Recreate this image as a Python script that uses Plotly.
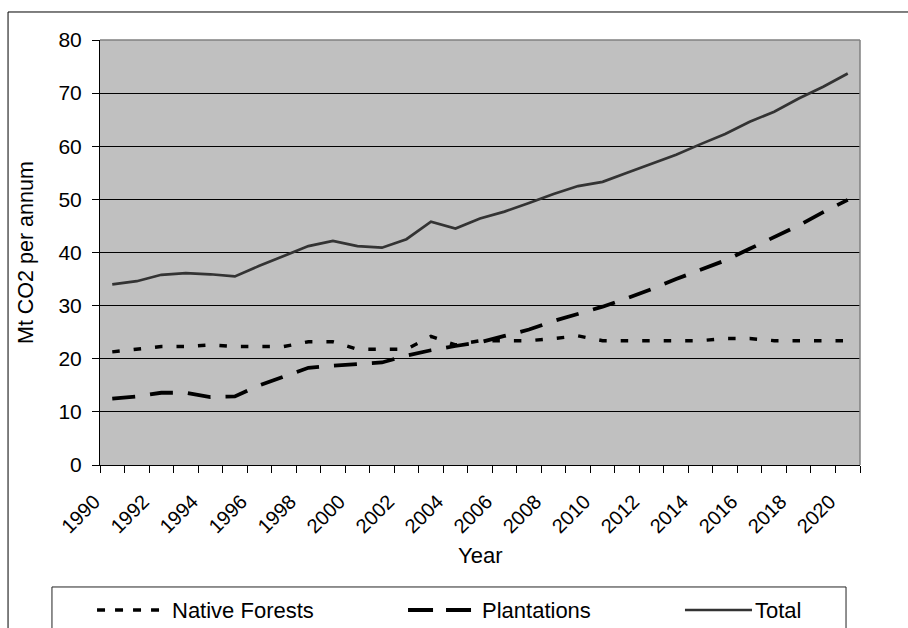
import plotly.graph_objects as go

# Annual net CO2 removals (Mt CO2 per annum), 1990-2020
years = list(range(1990, 2021))
native_forests = [21.3, 21.8, 22.3, 22.3, 22.6, 22.3, 22.3, 22.3, 23.2, 23.2,
                  21.8, 21.8, 21.8, 24.2, 22.6, 23.4, 23.4, 23.4, 23.8, 24.3,
                  23.4, 23.4, 23.4, 23.4, 23.4, 23.8, 23.8, 23.4, 23.4, 23.4, 23.4]
plantations = [12.5, 12.9, 13.6, 13.6, 12.8, 12.9, 15.0, 16.7, 18.3, 18.7,
               19.0, 19.3, 20.6, 21.6, 22.4, 23.1, 24.3, 25.5, 27.1, 28.4,
               29.8, 31.4, 33.1, 35.0, 36.7, 38.5, 40.7, 42.9, 45.1, 47.6, 49.9]
total = [34.0, 34.6, 35.8, 36.1, 35.9, 35.5, 37.5, 39.3, 41.2, 42.2,
         41.2, 40.9, 42.5, 45.8, 44.5, 46.4, 47.7, 49.3, 51.0, 52.5,
         53.3, 55.0, 56.7, 58.4, 60.4, 62.3, 64.6, 66.5, 69.0, 71.2, 73.7]

x_ticks = list(range(1990, 2021, 2))
y_ticks = list(range(0, 81, 10))

FONT = "Liberation Sans, Arial, sans-serif"

fig = go.Figure()
fig.add_trace(go.Scatter(x=years, y=native_forests, mode="lines", name="Native Forests",
                         line=dict(color="#000000", width=3.4, dash="7.5px,14px")))
fig.add_trace(go.Scatter(x=years, y=plantations, mode="lines", name="Plantations",
                         line=dict(color="#000000", width=3.8, dash="23px,15px")))
fig.add_trace(go.Scatter(x=years, y=total, mode="lines", name="Total",
                         line=dict(color="#333333", width=2.7)))

fig.update_layout(
    width=908, height=628, autosize=False,
    margin=dict(l=100, r=48, t=40, b=163),
    paper_bgcolor="white", plot_bgcolor="#c0c0c0",
    showlegend=False,
    font=dict(family=FONT, size=21, color="black"),
)

fig.update_xaxes(
    range=[1989.5, 2020.5], tickmode="array", tickvals=x_ticks,
    ticktext=[str(v) for v in x_ticks], tickangle=-45,
    ticks="", showgrid=False, zeroline=False,
    showline=True, linecolor="black", linewidth=1,
    tickfont=dict(size=20), ticklabelshift=-18, ticklabelstandoff=16,
    minor=dict(tick0=1989.5, dtick=1, ticks="outside", ticklen=7,
               tickcolor="black", tickwidth=1, showgrid=False),
)
fig.update_yaxes(
    range=[0, 80], tickmode="array", tickvals=y_ticks,
    ticks="outside", ticklen=7, tickcolor="black", tickwidth=1,
    showgrid=True, gridcolor="black", gridwidth=1, zeroline=False,
    showline=True, linecolor="black", linewidth=1,
    tickfont=dict(size=21), ticklabelstandoff=6,
)

shapes = []
# grey frame on top and right of the plotting area
shapes.append(dict(type="line", xref="paper", yref="paper", x0=0, x1=1, y0=1, y1=1,
                   line=dict(color="#808080", width=1.5), layer="above"))
shapes.append(dict(type="line", xref="paper", yref="paper", x0=1, x1=1, y0=0, y1=1,
                   line=dict(color="#808080", width=1.5), layer="above"))
# outer chart frame
shapes.append(dict(type="rect", xref="paper", yref="paper",
                   x0=-0.121, x1=1.3, y0=-0.7, y1=1.0659,
                   line=dict(color="black", width=1), fillcolor="rgba(0,0,0,0)",
                   layer="below"))
# legend box
shapes.append(dict(type="rect", xref="paper", yref="paper",
                   x0=-0.0632, x1=0.9816, y0=-0.7, y1=-0.287,
                   line=dict(color="#222222", width=1), fillcolor="rgba(0,0,0,0)",
                   layer="below"))

# legend samples and labels
legend_y = -0.3412
legend_items = [
    ("Native Forests", -0.0039, 0.0829, 0.0921, dict(color="#000000", width=3.4, dash="8px,10px")),
    ("Plantations", 0.4053, 0.4895, 0.5000, dict(color="#000000", width=3.8, dash="25px,13px")),
    ("Total", 0.7697, 0.8579, 0.8592, dict(color="#333333", width=2.7)),
]
annotations = []
for label, x0, x1, xt, ln in legend_items:
    shapes.append(dict(type="line", xref="paper", yref="paper",
                       x0=x0, x1=x1, y0=legend_y, y1=legend_y, line=ln))
    annotations.append(dict(text=label, xref="paper", yref="paper", x=xt, y=legend_y,
                            xanchor="left", yanchor="middle", showarrow=False,
                            font=dict(size=22)))

# axis titles
annotations.append(dict(text="Mt CO2 per annum", xref="paper", yref="paper",
                        x=-0.098, y=0.5, textangle=-90, showarrow=False,
                        xanchor="center", yanchor="middle", font=dict(size=21.5)))
annotations.append(dict(text="Year", xref="paper", yref="paper",
                        x=0.5, y=-0.2118, showarrow=False,
                        xanchor="center", yanchor="middle", font=dict(size=22)))

fig.update_layout(shapes=shapes, annotations=annotations)

fig.write_html("out.html")
